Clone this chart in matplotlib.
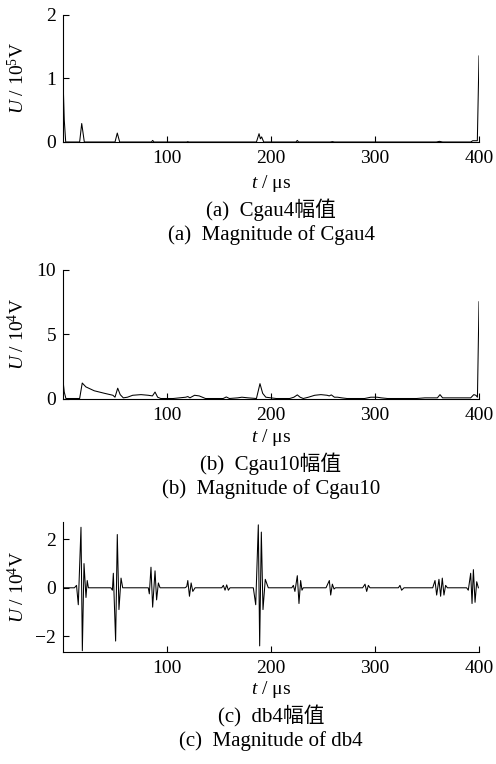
import matplotlib
matplotlib.use('Agg')
import matplotlib.pyplot as plt

plt.rcParams['font.family'] = ['Liberation Serif', 'Noto Sans CJK SC']
plt.rcParams['mathtext.fontset'] = 'custom'
plt.rcParams['mathtext.rm'] = 'Liberation Serif'
plt.rcParams['mathtext.it'] = 'Liberation Serif:italic'
plt.rcParams['axes.unicode_minus'] = True

# ---------------- data ----------------
x_ticks = [100, 200, 300, 400]

# (a) Cgau4 magnitude, unit 1e5 V
t_cgau4 = [0, 1.2, 2.6, 16, 18, 20.5, 50, 52.2, 54.5, 85, 86.2, 87.5, 119, 120, 121,
           186, 188.5, 189.8, 191, 193, 224, 225.3, 226.5, 257, 259, 261, 359, 362, 365,
           392, 394, 396, 398.4, 400]
u_cgau4 = [1.0, 0.35, 0, 0, 0.29, 0, 0, 0.14, 0, 0, 0.025, 0, 0, 0.006, 0,
           0, 0.13, 0.05, 0.08, 0, 0, 0.025, 0, 0, 0.006, 0, 0, 0.01, 0,
           0, 0.02, 0.02, 0.02, 1.35]
y_ticks_a = [0, 1, 2]

# (b) Cgau10 magnitude, unit 1e4 V
t_cgau10 = [0, 1.2, 2.8, 16, 18.5, 22, 30, 40, 48, 50, 52.6, 55, 58, 62, 67, 75, 82, 86,
            88.5, 91, 94, 106, 112, 118, 120, 122, 126.5, 131, 137, 154, 157, 160, 168,
            172, 178, 186, 189.4, 192, 195, 200, 205, 218, 222, 225.3, 228, 231, 236,
            242, 248, 254, 256, 258, 261, 264, 268, 273, 290, 296, 302, 306, 312, 340,
            348, 356, 360, 362.5, 365, 370, 380, 388, 392, 395, 397, 398.5, 400]
u_cgau10 = [1.4, 0.5, 0, 0, 1.2, 0.9, 0.6, 0.4, 0.25, 0.1, 0.8, 0.3, 0.05, 0.1, 0.25,
            0.3, 0.25, 0.2, 0.5, 0.1, 0, 0, 0.05, 0.1, 0.15, 0.05, 0.25, 0.2, 0, 0, 0.12,
            0, 0.05, 0.1, 0.05, 0, 1.15, 0.4, 0.1, 0.05, 0, 0, 0.1, 0.28, 0.1, 0, 0.1,
            0.25, 0.3, 0.25, 0.2, 0.28, 0.1, 0.1, 0.05, 0, 0, 0.1, 0.1, 0.05, 0, 0,
            0.05, 0.05, 0.05, 0.3, 0.05, 0.05, 0.05, 0.05, 0.05, 0.3, 0.25, 0.1, 7.5]
y_ticks_b = [0, 5, 10]

# (c) db4 magnitude, unit 1e4 V
t_db4 = [1, 11, 13, 14.7, 17.3, 18.6, 20.2, 22.1, 23.3, 24.4,
         46, 47.5, 48.4, 50.6, 52.2, 53.8, 55.8, 57.4,
         82, 83, 84.6, 86.2, 88.5, 90, 91.7, 93.3,
         117.3, 119, 120, 121.6, 123.2, 124.8, 127,
         152.6, 154.2, 155.8, 157.4, 159, 160.6,
         183, 185.3, 187.8, 189.1, 190.7, 192.3, 194.5, 197.4,
         220, 221.5, 223, 225.3, 226.9, 228.5, 229.8, 231,
         252.9, 256.1, 257.4, 259, 260.6, 262,
         288.1, 290.4, 292, 293.6, 295.2,
         322.5, 324, 325.6, 327.9,
         355.5, 357.7, 359.3, 361.5, 363.1, 364.7, 366.3, 367.9, 369.6,
         388.1, 389.7, 392, 393.3, 394.6, 396.2, 397.8, 399.4]
u_db4 = [0, 0, 0.1, -0.7, 2.5, -2.6, 1.0, -0.4, 0.3, 0,
         0, -0.1, 0.6, -2.2, 2.2, -0.9, 0.4, 0,
         0, -0.25, 0.85, -0.8, 0.7, -0.5, 0.2, 0,
         0, 0.05, 0.3, -0.35, 0.2, -0.15, 0,
         0, 0.1, -0.1, 0.12, -0.1, 0,
         0, -0.7, 2.6, -2.4, 2.3, -0.9, 0.35, 0,
         0, 0.1, -0.15, 0.5, -0.65, 0.3, -0.1, 0,
         0, 0.3, -0.3, 0.15, -0.05, 0,
         0, 0.15, -0.15, 0.1, 0,
         0, 0.1, -0.1, 0,
         0, 0.3, -0.3, 0.35, -0.35, 0.4, -0.3, 0.1, 0,
         0, -0.1, 0.6, -0.65, 0.75, -0.6, 0.25, 0]
y_ticks_c = [-2, 0, 2]

panels = [
    dict(t=t_cgau4, u=u_cgau4, ylim=(0, 2), yticks=y_ticks_a,
         ylabel=r'$U$ / 10$^5$V', cap1='(a)  Cgau4幅值', cap2='(a)  Magnitude of Cgau4',
         box=(63, 479, 14.5, 142), texty=(184, 210, 235)),
    dict(t=t_cgau10, u=u_cgau10, ylim=(0, 10), yticks=y_ticks_b,
         ylabel=r'$U$ / 10$^4$V', cap1='(b)  Cgau10幅值', cap2='(b)  Magnitude of Cgau10',
         box=(63, 479, 269.5, 398.5), texty=(438, 464, 489)),
    dict(t=t_db4, u=u_db4, ylim=(-2.64, 2.73), yticks=y_ticks_c,
         ylabel=r'$U$ / 10$^4$V', cap1='(c)  db4幅值', cap2='(c)  Magnitude of db4',
         box=(63, 479, 521.7, 651.7), texty=(690, 716, 741)),
]

W, H = 496, 764
fig = plt.figure(figsize=(W / 100, H / 100), dpi=100)

for p in panels:
    l, r, tp, bt = p['box']
    ax = fig.add_axes([l / W, 1 - bt / H, (r - l) / W, (bt - tp) / H])
    ax.plot(p['t'], p['u'], color='black', lw=0.75)
    ax.set_xlim(0, 400)
    ax.set_ylim(*p['ylim'])
    ax.set_xticks(x_ticks)
    ax.set_yticks(p['yticks'])
    for s in ('top', 'right'):
        ax.spines[s].set_visible(False)
    for s in ('left', 'bottom'):
        ax.spines[s].set_linewidth(0.8)
    ax.tick_params(direction='in', length=4, width=0.8, labelsize=14, pad=5)
    ax.tick_params(axis='x', pad=6)
    ax.set_ylabel(p['ylabel'], fontsize=14)
    ax.yaxis.set_label_coords(-0.083, 0.5)
    xc = (l + r) / 2 / W
    fig.text(xc, 1 - p['texty'][0] / H, r'$t$ / μs', ha='center', va='center', fontsize=14)
    fig.text(xc, 1 - p['texty'][1] / H, p['cap1'], ha='center', va='center', fontsize=15)
    fig.text(xc, 1 - p['texty'][2] / H, p['cap2'], ha='center', va='center', fontsize=15)

fig.savefig('out.png', dpi=100)
